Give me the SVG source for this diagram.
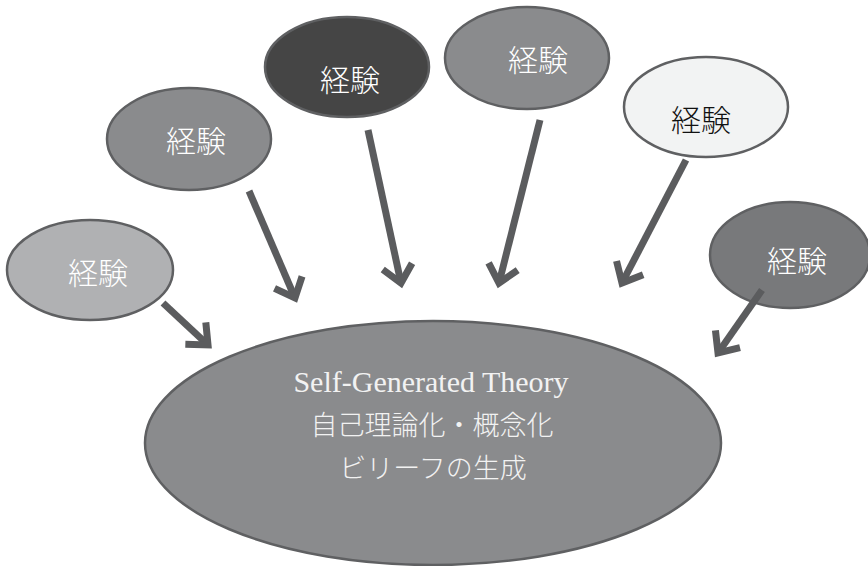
<svg xmlns="http://www.w3.org/2000/svg" width="868" height="566" viewBox="0 0 868 566">
<defs>
<marker id="ah" markerUnits="userSpaceOnUse" markerWidth="40" markerHeight="40" refX="20" refY="20" orient="auto" viewBox="0 0 40 40">
<path d="M3,5 L20,20 L3,35" fill="none" stroke="#5b5c5e" stroke-width="7" stroke-linejoin="miter" stroke-linecap="butt"/>
</marker>
</defs>
<style>
.n ellipse{stroke:#5f6062;stroke-width:2.5}
.t{font-family:"Liberation Serif","Noto Sans CJK JP",serif;font-size:30px;font-weight:300;text-anchor:middle;fill:#ffffff}
.m{font-family:"Liberation Serif","Noto Sans CJK JP",serif;font-weight:300;text-anchor:middle;fill:#f2f2f2}
#edges line{stroke:#5b5c5e;stroke-width:7;marker-end:url(#ah)}
</style>
<rect width="868" height="566" fill="#ffffff"/>
<g id="center" class="n">
<ellipse cx="433" cy="443" rx="288" ry="122" fill="#8a8b8d"/>
<text class="m" x="431" y="392" font-size="30">Self-Generated Theory</text>
<text class="m" x="432" y="435" font-size="27">自己理論化・概念化</text>
<text class="m" x="433" y="478" font-size="27">ビリーフの生成</text>
</g>
<g id="exp1" class="n">
<ellipse cx="90" cy="270" rx="83" ry="50" fill="#b0b1b3"/>
<text class="t" x="98" y="284">経験</text>
</g>
<g id="exp2" class="n">
<ellipse cx="189" cy="139" rx="82" ry="51" fill="#8a8b8d"/>
<text class="t" x="196" y="152">経験</text>
</g>
<g id="exp3" class="n">
<ellipse cx="347" cy="67" rx="82" ry="50" fill="#454545"/>
<text class="t" x="350" y="91">経験</text>
</g>
<g id="exp4" class="n">
<ellipse cx="527" cy="58" rx="82" ry="51" fill="#8a8b8d"/>
<text class="t" x="538" y="71">経験</text>
</g>
<g id="exp5" class="n">
<ellipse cx="706" cy="107" rx="82" ry="50" fill="#f2f3f3"/>
<text class="t" x="701" y="131" style="fill:#111111">経験</text>
</g>
<g id="exp6" class="n">
<ellipse cx="790" cy="255" rx="80" ry="53" fill="#78797b"/>
<text class="t" x="797" y="272">経験</text>
</g>
<g id="edges">
<line x1="163" y1="303" x2="208" y2="345"/>
<line x1="249" y1="191" x2="295" y2="298"/>
<line x1="368" y1="130" x2="401" y2="283"/>
<line x1="540" y1="120" x2="499" y2="283"/>
<line x1="686" y1="160" x2="622" y2="283"/>
<line x1="762" y1="290" x2="718" y2="353"/>
</g>
</svg>
